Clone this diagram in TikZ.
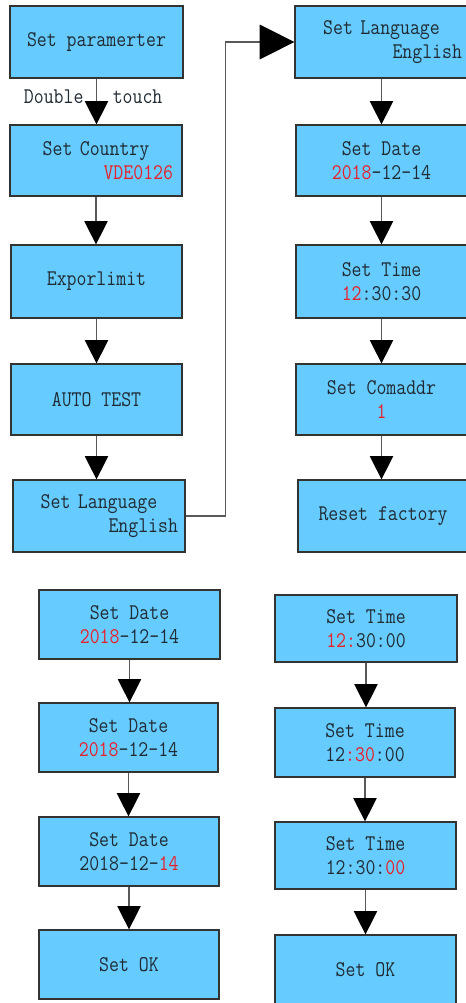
\documentclass[tikz,border=0pt]{standalone}
\usepackage{fontspec}
\setmonofont{Latin Modern Mono}[FakeStretch=0.86]
\usetikzlibrary{arrows.meta}
\definecolor{boxblue}{HTML}{66CCFF}
\definecolor{valred}{HTML}{E8202A}
\definecolor{txtdark}{HTML}{1F2A33}

\begin{document}
\begin{tikzpicture}[x=0.75pt,y=-0.75pt,
   scr/.style={draw=black!80,line width=0.9pt,fill=boxblue,text=txtdark,align=center,inner sep=0pt,
     font=\ttfamily\fontsize{16.8}{18}\selectfont},
   flow/.style={draw=black!65,line width=0.8pt,-{Triangle[width=17.5pt,length=17.5pt,color=black]}},
   jump/.style={draw=black!65,line width=0.8pt,-{Triangle[width=26pt,length=26pt,color=black]}},
   lbl/.style={text=txtdark,font=\ttfamily\fontsize{16.8}{18}\selectfont}]

  \useasboundingbox (0,0) rectangle (465,1003);

  % ---- main menu (left) ----
  \node[scr,minimum width=129.75pt,minimum height=54pt] (param) at (96.5,42) {Set paramerter};
  \node[scr,text width=115.5pt,inner xsep=6.75pt,minimum height=53.25pt] (country) at (96,160.5)
     {{\centering Set Country\par}{\raggedleft\textcolor{valred}{VDE0126}\par}};
  \node[scr,minimum width=128.25pt,minimum height=54.75pt] (exp) at (96.5,281.5) {Exporlimit};
  \node[scr,minimum width=128.25pt,minimum height=53.25pt] (auto) at (96.5,399.5) {AUTO TEST};
  \node[scr,text width=118.5pt,inner xsep=5.25pt,minimum height=54pt] (langL) at (99,516)
     {{\centering Set Language\par}{\raggedleft English\par}};

  % ---- main menu (right) ----
  \node[scr,text width=120.75pt,inner xsep=4.5pt,minimum height=54pt] (langR) at (381.5,42)
     {{\centering Set Language\par}{\raggedleft English\par}};
  \node[scr,minimum width=128.25pt,minimum height=53.25pt] (dateR) at (381.5,160.5)
     {Set Date\\\textcolor{valred}{2018}-12-14};
  \node[scr,minimum width=128.25pt,minimum height=54.75pt] (timeR) at (381.5,281.5)
     {Set Time\\\textcolor{valred}{12}:30:30};
  \node[scr,minimum width=128.25pt,minimum height=53.25pt] (addr) at (381.5,399.5)
     {Set Comaddr\\\textcolor{valred}{1}};
  \node[scr,minimum width=127.5pt,minimum height=54pt] (reset) at (383,516) {Reset factory};

  % ---- date editing ----
  \node[scr,minimum width=135.75pt,minimum height=51.75pt] (d1) at (129.5,624.5)
     {Set Date\\\textcolor{valred}{2018}-12-14};
  \node[scr,minimum width=134.25pt,minimum height=51.75pt] (d2) at (128.5,737.5)
     {Set Date\\\textcolor{valred}{2018}-12-14};
  \node[scr,minimum width=135pt,minimum height=51.75pt] (d3) at (129,851.5)
     {Set Date\\2018-12-\textcolor{valred}{14}};
  \node[scr,minimum width=135pt,minimum height=51.75pt] (okL) at (129,964.5) {Set OK};

  % ---- time editing ----
  \node[scr,minimum width=136.5pt,minimum height=50.25pt] (t1) at (366,628.5)
     {Set Time\\\textcolor{valred}{12:}30:00};
  \node[scr,minimum width=135pt,minimum height=51.75pt] (t2) at (365,742.5)
     {Set Time\\12\textcolor{valred}{:30}:00};
  \node[scr,minimum width=135.75pt,minimum height=50.25pt] (t3) at (365.5,855.5)
     {Set Time\\12:30:\textcolor{valred}{00}};
  \node[scr,minimum width=135.75pt,minimum height=51.75pt] (okR) at (365.5,969.5) {Set OK};

  % connectors
  \draw[flow] (param.south) -- node[lbl,pos=0.4,xshift=-2.5pt]{Double\hspace{22pt}touch} (param.south |- country.north);
  \foreach \a/\b in {country/exp,exp/auto,auto/langL}{\draw[flow] (\a.south) -- (\a.south |- \b.north);}
  \foreach \a/\b in {langR/dateR,dateR/timeR,timeR/addr,addr/reset}{\draw[flow] (\a.south) -- (\a.south |- \b.north);}
  \foreach \a/\b in {d1/d2,d2/d3,d3/okL}{\draw[flow] (\a.south) -- (\a.south |- \b.north);}
  \foreach \a/\b in {t1/t2,t2/t3,t3/okR}{\draw[flow] (\a.south) -- (\a.south |- \b.north);}
  \draw[jump] (langL.east) -- ++(40,0) |- (langR.west);
\end{tikzpicture}
\end{document}
